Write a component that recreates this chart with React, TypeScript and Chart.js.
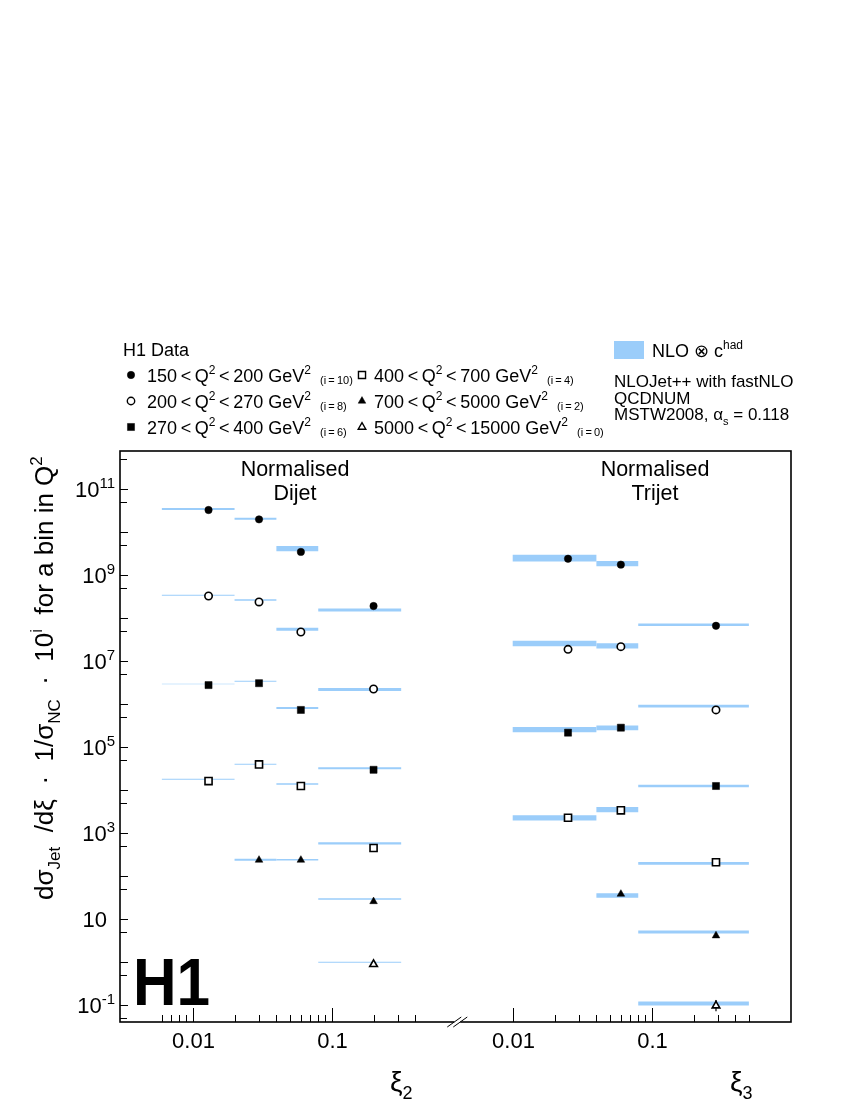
import React, { useEffect, useRef } from "react";
import Chart from "chart.js/auto";
import { drawPoint } from "chart.js/helpers";

const W = 863;
const H = 1117;
const FONT = "'Liberation Sans', Arial, Helvetica, sans-serif";
const BAND = "rgb(155, 205, 250)";
const TS = "\u2009"; // thin space

// bins in xi
const dijetEdges = [0.006, 0.02, 0.04, 0.08, 0.316];
const dijetCentres = [0.013, 0.03, 0.06, 0.2];
const trijetEdges = [0.01, 0.04, 0.08, 0.5];
const trijetCentres = [0.025, 0.06, 0.29];

// Q2 bins and the 10^i factor applied to each
const q2Low = [150, 200, 270, 400, 700, 5000];
const q2High = [200, 270, 400, 700, 5000, 15000];
const scaleExp = [10, 8, 6, 4, 2, 0];

// measured values (already times 10^i), one row per Q2 bin
const dijetData = [
  [3.3e10, 2.0e10, 3.5e9, 1.93e8],
  [3.3e8, 2.4e8, 4.8e7, 2.27e6],
  [2.8e6, 3.1e6, 7.4e5, 3.0e4],
  [1.64e4, 4.0e4, 1.26e4, 455],
  [null, 239, 239, 26],
  [null, null, null, 0.9],
];
const dijetErr = [
  [0.02, 0.02, 0.03, 0.04],
  [0.02, 0.02, 0.03, 0.04],
  [0.03, 0.03, 0.03, 0.04],
  [0.04, 0.03, 0.04, 0.05],
  [null, 0.05, 0.05, 0.06],
  [null, null, null, 0.1],
];
const dijetNlo = [
  [3.5e10, 2.07e10, 4.2e9, 1.56e8],
  [3.43e8, 2.67e8, 5.55e7, 2.23e6],
  [2.97e6, 3.43e6, 8.2e5, 3.25e4],
  [1.8e4, 4.03e4, 1.4e4, 585],
  [null, 243, 243, 29.6],
  [null, null, null, 1.0],
];
const dijetNloUnc = [
  [0.055, 0.055, 0.14, 0.08],
  [0.027, 0.04, 0.08, 0.08],
  [0.013, 0.027, 0.055, 0.055],
  [0.027, 0.027, 0.04, 0.055],
  [null, 0.05, 0.04, 0.04],
  [null, null, null, 0.027],
];

const trijetData = [
  [2.43e9, 1.77e9, 6.7e7],
  [1.9e7, 2.19e7, 7.4e5],
  [2.19e5, 2.86e5, 1.26e4],
  [2.3e3, 3.43e3, 212],
  [null, 38.7, 4.16],
  [null, null, 0.098],
];
const trijetErr = [
  [0.1, 0.08, 0.05],
  [0.08, 0.08, 0.05],
  [0.08, 0.08, 0.05],
  [0.08, 0.08, 0.06],
  [null, 0.1, 0.08],
  [null, null, 0.35],
];
const trijetNlo = [
  [2.56e9, 1.9e9, 7.1e7],
  [2.62e7, 2.31e7, 9.1e5],
  [2.62e5, 2.86e5, 1.26e4],
  [2.31e3, 3.6e3, 200],
  [null, 36.1, 5.07],
  [null, null, 0.111],
];
const trijetNloUnc = [
  [0.18, 0.14, 0.07],
  [0.15, 0.14, 0.07],
  [0.14, 0.13, 0.07],
  [0.14, 0.14, 0.07],
  [null, 0.12, 0.08],
  [null, null, 0.11],
];

// axis ticks
const xMajorTicks = [0.01, 0.1];
const xTickLabels = ["0.01", "0.1"];
const dijetMinorTicks = [0.006, 0.007, 0.008, 0.009, 0.02, 0.03, 0.04, 0.05, 0.06, 0.07, 0.08, 0.09, 0.2, 0.3, 0.4];
const trijetMinorTicks = [0.02, 0.03, 0.04, 0.05, 0.06, 0.07, 0.08, 0.09, 0.2, 0.3, 0.4, 0.5];
const yMajorTicks = [0.1, 1, 10, 1e2, 1e3, 1e4, 1e5, 1e6, 1e7, 1e8, 1e9, 1e10, 1e11];
const yMinorTicks = [0.05, 0.5, 5, 50, 5e2, 5e3, 5e4, 5e5, 5e6, 5e7, 5e8, 5e9, 5e10, 5e11];
const yLabelPowers = [-1, 1, 3, 5, 7, 9, 11];

// marker look per Q2 bin
const markerStyle = ["circle", "circle", "rect", "rect", "triangle", "triangle"];
const markerFilled = [true, false, true, false, true, false];
const markerRadius = [3.7, 3.7, 5, 5, 4.4, 4.4];

type Part = [string, "n" | "sup" | "sub" | "small"];

function drawRich(
  ctx: CanvasRenderingContext2D,
  parts: Part[],
  x: number,
  y: number,
  size: number,
  align: "left" | "right" | "center" = "left"
) {
  const fontFor = (m: string) =>
    m === "n" ? `${size}px ${FONT}` : m === "small" ? `${Math.round(size * 0.62)}px ${FONT}` : `${Math.round(size * 0.66)}px ${FONT}`;
  const dyFor = (m: string) => (m === "sup" ? -size * 0.42 : m === "sub" ? size * 0.28 : m === "small" ? size * 0.12 : 0);
  const widths = parts.map(([t, m]) => {
    ctx.font = fontFor(m);
    return ctx.measureText(t).width;
  });
  const total = widths.reduce((a, b) => a + b, 0);
  let cx = align === "left" ? x : align === "right" ? x - total : x - total / 2;
  ctx.textAlign = "left";
  ctx.textBaseline = "alphabetic";
  parts.forEach(([t, m], i) => {
    ctx.font = fontFor(m);
    ctx.fillText(t, cx, y + dyFor(m));
    cx += widths[i];
  });
}

function panelDatasets(
  axis: string,
  edges: number[],
  centres: number[],
  data: (number | null)[][],
  err: (number | null)[][],
  nlo: (number | null)[][],
  unc: (number | null)[][]
) {
  const out: any[] = [];
  data.forEach((row, s) => {
    nlo[s].forEach((v, k) => {
      if (v == null) return;
      const u = unc[s][k] as number;
      const hi = v * (1 + u);
      const lo = v * (1 - u);
      out.push({
        type: "line",
        xAxisID: axis,
        yAxisID: "y",
        order: 2,
        data: [
          { x: edges[k], y: hi },
          { x: edges[k + 1], y: hi },
          { x: edges[k + 1], y: lo },
          { x: edges[k], y: lo },
        ],
        fill: "shape",
        backgroundColor: BAND,
        borderColor: BAND,
        borderWidth: 0,
        pointRadius: 0,
        tension: 0,
      });
    });
    const pts: any[] = [];
    row.forEach((v, k) => {
      if (v == null) return;
      pts.push({ x: centres[k], y: v, err: err[s][k] });
    });
    out.push({
      type: "scatter",
      xAxisID: axis,
      yAxisID: "y",
      order: 1,
      isMarker: true,
      data: pts,
      pointStyle: markerStyle[s],
      pointRadius: markerRadius[s],
      backgroundColor: markerFilled[s] ? "#000" : "#fff",
      borderColor: "#000",
      borderWidth: markerFilled[s] ? 0.5 : 1.6,
    });
  });
  return out;
}

function drawErrors(chart: any) {
  const { ctx } = chart;
  const y = chart.scales.y;
  ctx.save();
  ctx.strokeStyle = "#000";
  ctx.lineWidth = 1.2;
  chart.data.datasets.forEach((ds: any, i: number) => {
    if (!ds.isMarker) return;
    const meta = chart.getDatasetMeta(i);
    ds.data.forEach((p: any, k: number) => {
      if (!p.err) return;
      const el = meta.data[k];
      const y1 = y.getPixelForValue(p.y * (1 + p.err));
      const y2 = y.getPixelForValue(p.y / (1 + p.err));
      ctx.beginPath();
      ctx.moveTo(el.x, y1);
      ctx.lineTo(el.x, y2);
      ctx.stroke();
    });
  });
  ctx.restore();
}

function legendMarker(ctx: CanvasRenderingContext2D, s: number, x: number, y: number) {
  ctx.save();
  ctx.fillStyle = markerFilled[s] ? "#000" : "#fff";
  ctx.strokeStyle = "#000";
  ctx.lineWidth = markerFilled[s] ? 0.5 : 1.4;
  drawPoint(ctx, { pointStyle: markerStyle[s] as any, radius: markerRadius[s], rotation: 0, borderWidth: ctx.lineWidth }, x, y);
  ctx.restore();
}

const decorPlugin = {
  id: "decor",
  beforeDatasetsDraw(chart: any) {
    chart.$errDone = false;
  },
  beforeDatasetDraw(chart: any, args: any) {
    const ds = chart.data.datasets[args.index];
    if (ds && ds.isMarker && !chart.$errDone) {
      drawErrors(chart);
      chart.$errDone = true;
    }
  },
  afterDraw(chart: any) {
    const { ctx, chartArea: a } = chart;
    const xd = chart.scales.xd;
    const xt = chart.scales.xt;
    const y = chart.scales.y;
    ctx.save();
    ctx.fillStyle = "#000";
    ctx.strokeStyle = "#000";

    // frame
    ctx.lineWidth = 1.6;
    ctx.strokeRect(a.left, a.top, a.right - a.left, a.bottom - a.top);

    // y ticks
    ctx.lineWidth = 1;
    const hline = (yy: number, len: number) => {
      ctx.beginPath();
      ctx.moveTo(a.left, yy);
      ctx.lineTo(a.left + len, yy);
      ctx.stroke();
    };
    yMajorTicks.forEach((v) => hline(Math.round(y.getPixelForValue(v)) + 0.5, 8));
    yMinorTicks.forEach((v) => {
      const p = y.getPixelForValue(v);
      if (p > a.top && p < a.bottom) hline(Math.round(p) + 0.5, 7);
    });
    yLabelPowers.forEach((pw) => {
      const p = y.getPixelForValue(Math.pow(10, pw));
      if (pw === 1) {
        drawRich(ctx, [["10", "n"]], a.left - 13, p + 8, 22, "right");
      } else {
        drawRich(ctx, [["10", "n"], [String(pw), "sup"]], a.left - 5, p + 8, 22, "right");
      }
    });

    // x ticks
    const vline = (xx: number, len: number) => {
      ctx.beginPath();
      ctx.moveTo(xx, a.bottom);
      ctx.lineTo(xx, a.bottom - len);
      ctx.stroke();
    };
    [xd, xt].forEach((sc, pi) => {
      const minor = pi === 0 ? dijetMinorTicks : trijetMinorTicks;
      minor.forEach((v) => vline(Math.round(sc.getPixelForValue(v)) + 0.5, 7));
      xMajorTicks.forEach((v, k) => {
        const px = Math.round(sc.getPixelForValue(v)) + 0.5;
        vline(px, 14);
        drawRich(ctx, [[xTickLabels[k], "n"]], px, a.bottom + 26, 22, "center");
      });
    });

    // axis break
    const bx = xd.getPixelForValue(0.8);
    ctx.fillStyle = "#fff";
    ctx.fillRect(bx - 3, a.bottom - 2, 6, 4);
    ctx.fillStyle = "#000";
    ctx.lineWidth = 1;
    [-3, 3].forEach((d) => {
      ctx.beginPath();
      ctx.moveTo(bx + d - 7, a.bottom + 5);
      ctx.lineTo(bx + d + 7, a.bottom - 5);
      ctx.stroke();
    });

    // axis titles
    drawRich(ctx, [["ξ", "n"], ["2", "sub"]], 390, 1091, 28, "left");
    drawRich(ctx, [["ξ", "n"], ["3", "sub"]], 730, 1091, 28, "left");

    ctx.save();
    ctx.translate(53, 900);
    ctx.rotate(-Math.PI / 2);
    drawRich(
      ctx,
      [
        ["dσ", "n"],
        ["Jet", "sub"],
        ["  /dξ  ·  1/σ", "n"],
        ["NC", "sub"],
        ["  ·  10", "n"],
        ["i", "sup"],
        ["  for a bin in Q", "n"],
        ["2", "sup"],
      ],
      0,
      0,
      26,
      "left"
    );
    ctx.restore();

    // panel captions
    drawRich(ctx, [["Normalised", "n"]], 295, 476, 21.5, "center");
    drawRich(ctx, [["Dijet", "n"]], 295, 500, 21.5, "center");
    drawRich(ctx, [["Normalised", "n"]], 655, 476, 21.5, "center");
    drawRich(ctx, [["Trijet", "n"]], 655, 500, 21.5, "center");

    // H1 logo
    ctx.save();
    ctx.translate(133, 1005);
    ctx.scale(0.9, 1);
    ctx.font = `bold 67px ${FONT}`;
    ctx.textAlign = "left";
    ctx.fillText("H1", 0, 0);
    ctx.restore();

    // data legend
    drawRich(ctx, [["H1 Data", "n"]], 123, 356, 18, "left");
    const rowY = [375, 401, 427];
    q2Low.forEach((lo, s) => {
      const col = s < 3 ? 0 : 1;
      const yy = rowY[s % 3];
      const mx = col === 0 ? 131 : 362;
      const tx = col === 0 ? 147 : 374;
      legendMarker(ctx, s, mx, yy);
      ctx.fillStyle = "#000";
      drawRich(
        ctx,
        [
          [`${lo}${TS}<${TS}Q`, "n"],
          ["2", "sup"],
          [`${TS}<${TS}${q2High[s]} GeV`, "n"],
          ["2", "sup"],
          [`   (i${TS}=${TS}${scaleExp[s]})`, "small"],
        ],
        tx,
        yy + 6.5,
        18,
        "left"
      );
    });

    // theory legend
    ctx.fillStyle = BAND;
    ctx.fillRect(614, 341, 30, 18);
    ctx.fillStyle = "#000";
    drawRich(ctx, [["NLO ⊗ c", "n"], ["had", "sup"]], 652, 357, 18, "left");
    drawRich(ctx, [["NLOJet++ with fastNLO", "n"]], 614, 387, 17, "left");
    drawRich(ctx, [["QCDNUM", "n"]], 614, 403.5, 17, "left");
    drawRich(ctx, [["MSTW2008, α", "n"], ["s", "sub"], [" = 0.118", "n"]], 614, 420, 17, "left");

    ctx.restore();
  },
};

export default function App() {
  const canvasRef = useRef<HTMLCanvasElement | null>(null);

  useEffect(() => {
    if (!canvasRef.current) return;
    const datasets = [
      ...panelDatasets("xd", dijetEdges, dijetCentres, dijetData, dijetErr, dijetNlo, dijetNloUnc),
      ...panelDatasets("xt", trijetEdges, trijetCentres, trijetData, trijetErr, trijetNlo, trijetNloUnc),
    ];
    const chart = new Chart(canvasRef.current, {
      type: "scatter",
      data: { datasets },
      options: {
        animation: false,
        responsive: false,
        events: [],
        layout: { padding: { left: 120, right: 72, top: 451, bottom: 95 } },
        plugins: { legend: { display: false }, tooltip: { enabled: false } },
        scales: {
          xd: { type: "logarithmic", display: false, bounds: "data", min: Math.pow(10, -2.523), max: Math.pow(10, 2.304) },
          xt: { type: "logarithmic", display: false, bounds: "data", min: Math.pow(10, -4.825), max: Math.pow(10, 0.002) },
          y: { type: "logarithmic", display: false, bounds: "data", min: Math.pow(10, -1.388), max: Math.pow(10, 11.891) },
        },
      } as any,
      plugins: [decorPlugin],
    });
    return () => {
      chart.destroy();
    };
  }, []);

  return (
    <div style={{ position: "absolute", left: 0, top: 0, width: W, height: H, background: "#fff" }}>
      <canvas ref={canvasRef} width={W} height={H} style={{ display: "block" }}></canvas>
    </div>
  );
}
